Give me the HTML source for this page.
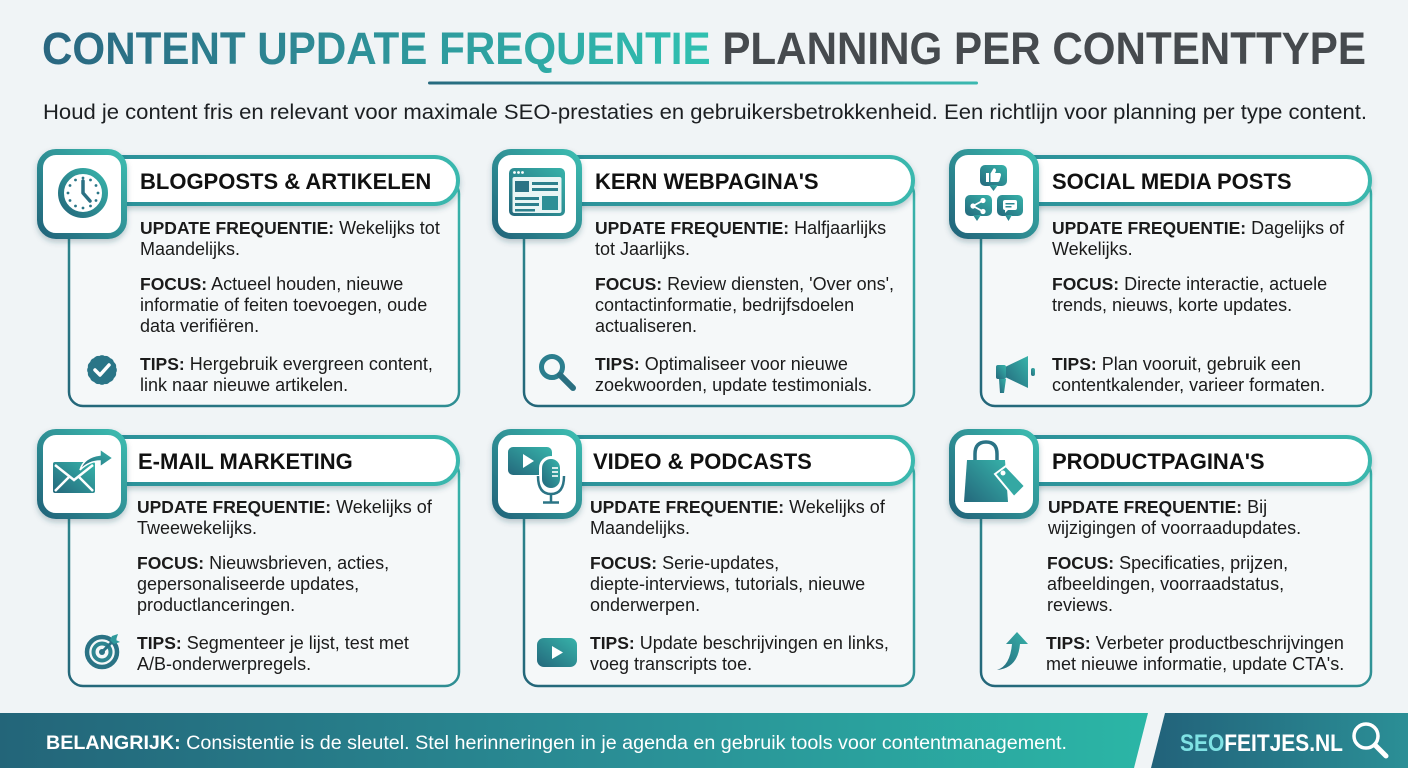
<!DOCTYPE html>
<html><head><meta charset="utf-8"><style>
html,body{margin:0;padding:0;background:#f0f4f6;}
svg{display:block;font-family:"Liberation Sans",Arial,sans-serif;}
</style></head><body>
<svg width="1408" height="768" viewBox="0 0 1408 768" xmlns="http://www.w3.org/2000/svg">
<defs>
<linearGradient id="gB" x1="0" y1="1" x2="1" y2="0"><stop offset="0" stop-color="#246679"/><stop offset="1" stop-color="#3ab7ad"/></linearGradient>
<linearGradient id="gI" x1="0" y1="1" x2="1" y2="0"><stop offset="0" stop-color="#22647a"/><stop offset="1" stop-color="#3cbcb0"/></linearGradient>
<linearGradient id="gF" x1="0" y1="1" x2="1" y2="0"><stop offset="0" stop-color="#24687c"/><stop offset="1" stop-color="#37b3aa"/></linearGradient>
<linearGradient id="gP" x1="0" y1="0" x2="1" y2="0"><stop offset="0" stop-color="#2b8e98"/><stop offset="1" stop-color="#3ab8ae"/></linearGradient>
<linearGradient id="gT" gradientUnits="userSpaceOnUse" x1="42" y1="0" x2="712" y2="0"><stop offset="0" stop-color="#2a6680"/><stop offset="0.45" stop-color="#2e8e97"/><stop offset="1" stop-color="#30c1b1"/></linearGradient>
<linearGradient id="gU" x1="0" y1="0" x2="1" y2="0"><stop offset="0" stop-color="#276a7f"/><stop offset="1" stop-color="#3ab8b0"/></linearGradient>
<linearGradient id="gFL" gradientUnits="userSpaceOnUse" x1="0" y1="0" x2="1148" y2="0"><stop offset="0" stop-color="#236579"/><stop offset="0.55" stop-color="#2a8f96"/><stop offset="1" stop-color="#2bb6a6"/></linearGradient>
<linearGradient id="gFR" gradientUnits="userSpaceOnUse" x1="1151" y1="0" x2="1408" y2="0"><stop offset="0" stop-color="#22627a"/><stop offset="1" stop-color="#2b8f96"/></linearGradient>
<filter id="sh" x="-20%" y="-20%" width="140%" height="170%"><feDropShadow dx="0" dy="3" stdDeviation="3" flood-color="#1d4b57" flood-opacity="0.28"/></filter>
</defs>

<rect width="1408" height="768" fill="#f0f4f6"/>

<!-- Title -->
<text x="42" y="64" font-size="45" font-weight="700" textLength="1324" lengthAdjust="spacingAndGlyphs"><tspan fill="url(#gT)">CONTENT UPDATE FREQUENTIE</tspan><tspan fill="#464a4e"> PLANNING PER CONTENTTYPE</tspan></text>
<rect x="428" y="81.5" width="550" height="3" rx="1.5" fill="url(#gU)"/>
<text x="43" y="119" font-size="21" fill="#1c1f22" textLength="1324" lengthAdjust="spacingAndGlyphs">Houd je content fris en relevant voor maximale SEO-prestaties en gebruikersbetrokkenheid. Een richtlijn voor planning per type content.</text>

<!-- CARD 1 -->
<g transform="translate(38,150)">
<rect x="31" y="30" width="390" height="226" rx="14" fill="#f5f8f9" stroke="url(#gB)" stroke-width="2.5"/>
<rect x="60" y="7" width="360" height="47" rx="23.5" fill="#fff" stroke="url(#gP)" stroke-width="4" filter="url(#sh)"/>
<rect x="2" y="2" width="84" height="84" rx="16" fill="#fff" stroke="url(#gI)" stroke-width="6" filter="url(#sh)"/>
<circle cx="45" cy="43" r="22" fill="#fff" stroke="url(#gF)" stroke-width="6"/>
<g fill="#2b7587"><circle cx="45" cy="28" r="1.4"/><circle cx="52.5" cy="30" r="1.4"/><circle cx="58" cy="35.5" r="1.4"/><circle cx="60" cy="43" r="1.4"/><circle cx="58" cy="50.5" r="1.4"/><circle cx="52.5" cy="56" r="1.4"/><circle cx="45" cy="58" r="1.4"/><circle cx="37.5" cy="56" r="1.4"/><circle cx="32" cy="50.5" r="1.4"/><circle cx="30" cy="43" r="1.4"/><circle cx="32" cy="35.5" r="1.4"/><circle cx="37.5" cy="30" r="1.4"/></g>
<path d="M45 31 L45 43 L52 51" stroke="#2b7083" stroke-width="3.5" fill="none" stroke-linecap="round" stroke-linejoin="round"/>
<text x="102" y="39" font-size="22" font-weight="700" fill="#111">BLOGPOSTS &amp; ARTIKELEN</text>
<g font-size="18" fill="#1b1b1b">
<text x="102" y="84"><tspan font-weight="700" font-size="17.5">UPDATE FREQUENTIE:</tspan> Wekelijks tot</text>
<text x="102" y="105">Maandelijks.</text>
<text x="102" y="140"><tspan font-weight="700" font-size="17.5">FOCUS:</tspan> Actueel houden, nieuwe</text>
<text x="102" y="161">informatie of feiten toevoegen, oude</text>
<text x="102" y="182">data verifiëren.</text>
<text x="102" y="220"><tspan font-weight="700" font-size="17.5">TIPS:</tspan> Hergebruik evergreen content,</text>
<text x="102" y="241">link naar nieuwe artikelen.</text>
</g>
<g fill="#2a7587"><rect x="52" y="208" width="24" height="24" rx="5"/><rect x="52" y="208" width="24" height="24" rx="5" transform="rotate(22.5 64 220)"/><rect x="52" y="208" width="24" height="24" rx="5" transform="rotate(45 64 220)"/><rect x="52" y="208" width="24" height="24" rx="5" transform="rotate(67.5 64 220)"/></g>
<polyline points="57,220 62,225 71,215" stroke="#fff" stroke-width="3.5" fill="none" stroke-linecap="round" stroke-linejoin="round"/>
</g>

<!-- CARD 2 -->
<g transform="translate(493,150)">
<rect x="31" y="30" width="390" height="226" rx="14" fill="#f5f8f9" stroke="url(#gB)" stroke-width="2.5"/>
<rect x="60" y="7" width="360" height="47" rx="23.5" fill="#fff" stroke="url(#gP)" stroke-width="4" filter="url(#sh)"/>
<rect x="2" y="2" width="84" height="84" rx="16" fill="#fff" stroke="url(#gI)" stroke-width="6" filter="url(#sh)"/>
<rect x="16" y="18" width="56" height="48" rx="5" fill="url(#gF)"/>
<rect x="19.5" y="27" width="49" height="36" rx="2" fill="#e9f5f5"/>
<g fill="#fff"><circle cx="21.5" cy="22.5" r="1.4"/><circle cx="25.5" cy="22.5" r="1.4"/><circle cx="29.5" cy="22.5" r="1.4"/></g>
<rect x="22" y="31" width="14" height="11" fill="#2c7385"/>
<g fill="#2c7f8c"><rect x="39" y="32" width="26" height="3"/><rect x="39" y="38" width="26" height="3"/><rect x="22" y="47" width="24" height="3"/><rect x="22" y="53" width="24" height="3"/><rect x="22" y="59" width="20" height="2.5"/></g>
<rect x="49" y="46" width="16" height="14" fill="#2e8f96"/>
<text x="102" y="39" font-size="22" font-weight="700" fill="#111">KERN WEBPAGINA'S</text>
<g font-size="18" fill="#1b1b1b">
<text x="102" y="84"><tspan font-weight="700" font-size="17.5">UPDATE FREQUENTIE:</tspan> Halfjaarlijks</text>
<text x="102" y="105">tot Jaarlijks.</text>
<text x="102" y="140"><tspan font-weight="700" font-size="17.5">FOCUS:</tspan> Review diensten, 'Over ons',</text>
<text x="102" y="161">contactinformatie, bedrijfsdoelen</text>
<text x="102" y="182">actualiseren.</text>
<text x="102" y="220"><tspan font-weight="700" font-size="17.5">TIPS:</tspan> Optimaliseer voor nieuwe</text>
<text x="102" y="241">zoekwoorden, update testimonials.</text>
</g>
<circle cx="59" cy="217" r="10.5" stroke="#2b7e8e" stroke-width="5" fill="none"/>
<line x1="67" y1="225" x2="80" y2="238" stroke="#2a6f80" stroke-width="6" stroke-linecap="round"/>
</g>

<!-- CARD 3 -->
<g transform="translate(950,150)">
<rect x="31" y="30" width="390" height="226" rx="14" fill="#f5f8f9" stroke="url(#gB)" stroke-width="2.5"/>
<rect x="60" y="7" width="360" height="47" rx="23.5" fill="#fff" stroke="url(#gP)" stroke-width="4" filter="url(#sh)"/>
<rect x="2" y="2" width="84" height="84" rx="16" fill="#fff" stroke="url(#gI)" stroke-width="6" filter="url(#sh)"/>
<g fill="url(#gF)">
<rect x="30" y="15" width="27" height="21" rx="5"/><polygon points="39,35 43.5,41 48,35"/>
<rect x="15" y="45" width="27" height="21" rx="5"/><polygon points="23,65 27,71 31,65"/>
<rect x="47" y="45" width="26" height="21" rx="5"/><polygon points="55,65 58.5,71 62,65"/>
</g>
<rect x="36" y="23" width="3" height="9" fill="#fff"/>
<path d="M40.5 32 L40.5 23.5 L43.5 18.5 Q46 18 46 21 L45 23 L50 23 Q51.5 24 50.8 26 L49.3 31 Q48.8 32 47.3 32 Z" fill="#fff"/>
<g stroke="#fff" stroke-width="1.8"><line x1="23" y1="56" x2="33" y2="50.5"/><line x1="23" y1="56" x2="33" y2="61.5"/></g>
<g fill="#fff"><circle cx="23" cy="56" r="2.6"/><circle cx="33" cy="50.5" r="2.6"/><circle cx="33" cy="61.5" r="2.6"/></g>
<rect x="53" y="50" width="14" height="10" rx="2" fill="#fff"/><polygon points="55,59 55,63 59,59" fill="#fff"/>
<g fill="#2b8a92"><rect x="55.5" y="53" width="9" height="1.5"/><rect x="55.5" y="56" width="6" height="1.5"/></g>
<text x="102" y="39" font-size="22" font-weight="700" fill="#111">SOCIAL MEDIA POSTS</text>
<g font-size="18" fill="#1b1b1b">
<text x="102" y="84"><tspan font-weight="700" font-size="17.5">UPDATE FREQUENTIE:</tspan> Dagelijks of</text>
<text x="102" y="105">Wekelijks.</text>
<text x="102" y="140"><tspan font-weight="700" font-size="17.5">FOCUS:</tspan> Directe interactie, actuele</text>
<text x="102" y="161">trends, nieuws, korte updates.</text>
<text x="102" y="220"><tspan font-weight="700" font-size="17.5">TIPS:</tspan> Plan vooruit, gebruik een</text>
<text x="102" y="241">contentkalender, varieer formaten.</text>
</g>
<g fill="url(#gF)">
<path d="M55 217 L78 206 L78 238 L55 227 Z"/>
<rect x="46" y="215" width="10" height="14" rx="2"/>
<path d="M49 229 L56 229 L54 243 L50 243 Z"/>
<rect x="81" y="218" width="4" height="8" rx="2"/>
</g>
</g>

<!-- CARD 4 -->
<g transform="translate(38,430)">
<rect x="31" y="30" width="390" height="226" rx="14" fill="#f5f8f9" stroke="url(#gB)" stroke-width="2.5"/>
<rect x="60" y="7" width="360" height="47" rx="23.5" fill="#fff" stroke="url(#gP)" stroke-width="4" filter="url(#sh)"/>
<rect x="2" y="2" width="84" height="84" rx="16" fill="#fff" stroke="url(#gI)" stroke-width="6" filter="url(#sh)"/>
<rect x="15" y="32" width="42" height="31" rx="2" fill="url(#gF)"/>
<polyline points="17,35 36,50 55,35" stroke="#fff" stroke-width="2.5" fill="none"/>
<line x1="17" y1="61" x2="31" y2="47" stroke="#fff" stroke-width="2.5"/>
<line x1="55" y1="61" x2="41" y2="47" stroke="#fff" stroke-width="2.5"/>
<path d="M42 40 Q46 27 62 25 L62 19 L75 28 L62 37 L62 31 Q51 31 42 40 Z" fill="url(#gF)" stroke="#fff" stroke-width="1.5"/>
<text x="100" y="39" font-size="22" font-weight="700" fill="#111">E-MAIL MARKETING</text>
<g font-size="18" fill="#1b1b1b">
<text x="99" y="83"><tspan font-weight="700" font-size="17.5">UPDATE FREQUENTIE:</tspan> Wekelijks of</text>
<text x="99" y="104">Tweewekelijks.</text>
<text x="99" y="139"><tspan font-weight="700" font-size="17.5">FOCUS:</tspan> Nieuwsbrieven, acties,</text>
<text x="99" y="160">gepersonaliseerde updates,</text>
<text x="99" y="181">productlanceringen.</text>
<text x="99" y="219"><tspan font-weight="700" font-size="17.5">TIPS:</tspan> Segmenteer je lijst, test met</text>
<text x="99" y="240">A/B-onderwerpregels.</text>
</g>
<circle cx="64" cy="222" r="15" stroke="#2a7385" stroke-width="4.5" fill="none"/>
<circle cx="64" cy="222" r="8.5" stroke="#2d8590" stroke-width="4" fill="none"/>
<circle cx="64" cy="222" r="3" fill="#2a7385"/>
<line x1="64" y1="222" x2="77" y2="209" stroke="#2a7385" stroke-width="3" stroke-linecap="round"/>
<path d="M74 206 L80 204 L78 210 L82 212 L76 214 L72 210 Z" fill="#2f9a9c"/>
</g>

<!-- CARD 5 -->
<g transform="translate(493,430)">
<rect x="31" y="30" width="390" height="226" rx="14" fill="#f5f8f9" stroke="url(#gB)" stroke-width="2.5"/>
<rect x="60" y="7" width="360" height="47" rx="23.5" fill="#fff" stroke="url(#gP)" stroke-width="4" filter="url(#sh)"/>
<rect x="2" y="2" width="84" height="84" rx="16" fill="#fff" stroke="url(#gI)" stroke-width="6" filter="url(#sh)"/>
<rect x="15" y="17" width="44" height="28" rx="5" fill="url(#gF)"/>
<polygon points="30,24 30,38 41,31" fill="#fff"/>
<rect x="46" y="26" width="24" height="35" rx="12" fill="#fff"/>
<rect x="49" y="29" width="18" height="29" rx="9" fill="url(#gF)"/>
<g stroke="#fff" stroke-width="1.6"><line x1="59" y1="38" x2="65" y2="38"/><line x1="59" y1="42" x2="65" y2="42"/><line x1="59" y1="46" x2="65" y2="46"/></g>
<path d="M45 46 Q45 64 58 64 Q71 64 71 46" stroke="#2b7485" stroke-width="2.5" fill="none"/>
<line x1="58" y1="64" x2="58" y2="72" stroke="#2b7485" stroke-width="2.5"/>
<line x1="50" y1="72.5" x2="66" y2="72.5" stroke="#2b7485" stroke-width="2.5"/>
<text x="100" y="39" font-size="22" font-weight="700" fill="#111">VIDEO &amp; PODCASTS</text>
<g font-size="18" fill="#1b1b1b">
<text x="97" y="83"><tspan font-weight="700" font-size="17.5">UPDATE FREQUENTIE:</tspan> Wekelijks of</text>
<text x="97" y="104">Maandelijks.</text>
<text x="97" y="139"><tspan font-weight="700" font-size="17.5">FOCUS:</tspan> Serie-updates,</text>
<text x="97" y="160">diepte-interviews, tutorials, nieuwe</text>
<text x="97" y="181">onderwerpen.</text>
<text x="97" y="219"><tspan font-weight="700" font-size="17.5">TIPS:</tspan> Update beschrijvingen en links,</text>
<text x="97" y="240">voeg transcripts toe.</text>
</g>
<rect x="44" y="208" width="40" height="29" rx="7" fill="url(#gF)"/>
<polygon points="59,216 59,229 70,222.5" fill="#fff"/>
</g>

<!-- CARD 6 -->
<g transform="translate(950,430)">
<rect x="31" y="30" width="390" height="226" rx="14" fill="#f5f8f9" stroke="url(#gB)" stroke-width="2.5"/>
<rect x="60" y="7" width="360" height="47" rx="23.5" fill="#fff" stroke="url(#gP)" stroke-width="4" filter="url(#sh)"/>
<rect x="2" y="2" width="84" height="84" rx="16" fill="#fff" stroke="url(#gI)" stroke-width="6" filter="url(#sh)"/>
<path d="M25 32 V24 Q25 12 36 12 Q47 12 47 24 V32" stroke="#2b7385" stroke-width="3.5" fill="none"/>
<path d="M17 30 H55 L58 72 H14 Z" fill="url(#gF)"/>
<path d="M45 44 L56 36 L75 56 L64 67 Z" fill="#34a8a3" stroke="#fff" stroke-width="2"/>
<circle cx="53" cy="43" r="2.5" fill="#fff"/>
<text x="102" y="39" font-size="22" font-weight="700" fill="#111">PRODUCTPAGINA'S</text>
<g font-size="18" fill="#1b1b1b">
<text x="98" y="83"><tspan font-weight="700" font-size="17.5">UPDATE FREQUENTIE:</tspan> Bij</text>
<text x="98" y="104">wijzigingen of voorraadupdates.</text>
<text x="97" y="139"><tspan font-weight="700" font-size="17.5">FOCUS:</tspan> Specificaties, prijzen,</text>
<text x="97" y="160">afbeeldingen, voorraadstatus,</text>
<text x="97" y="181">reviews.</text>
<text x="96" y="219"><tspan font-weight="700" font-size="17.5">TIPS:</tspan> Verbeter productbeschrijvingen</text>
<text x="96" y="240">met nieuwe informatie, update CTA's.</text>
</g>
<path d="M47 240 Q60 236 62 214 L56 214 L67 202 L78 214 L70 214 Q68 238 47 240 Z" fill="url(#gF)"/>
</g>

<!-- Footer -->
<polygon points="0,713 1148,713 1134,768 0,768" fill="url(#gFL)"/>
<polygon points="1165,713 1408,713 1408,768 1151,768" fill="url(#gFR)"/>
<text x="46" y="749" font-size="19" fill="#fff" textLength="1021" lengthAdjust="spacingAndGlyphs"><tspan font-weight="700">BELANGRIJK:</tspan> Consistentie is de sleutel. Stel herinneringen in je agenda en gebruik tools voor contentmanagement.</text>
<text x="1180" y="751" font-size="24" font-weight="700" textLength="163" lengthAdjust="spacingAndGlyphs"><tspan fill="#7fe2e4">SEO</tspan><tspan fill="#ffffff">FEITJES.NL</tspan></text>
<circle cx="1366" cy="736" r="12" stroke="#fff" stroke-width="3.5" fill="none"/>
<line x1="1375" y1="745" x2="1386" y2="756" stroke="#fff" stroke-width="5" stroke-linecap="round"/>
</svg>
</body></html>
